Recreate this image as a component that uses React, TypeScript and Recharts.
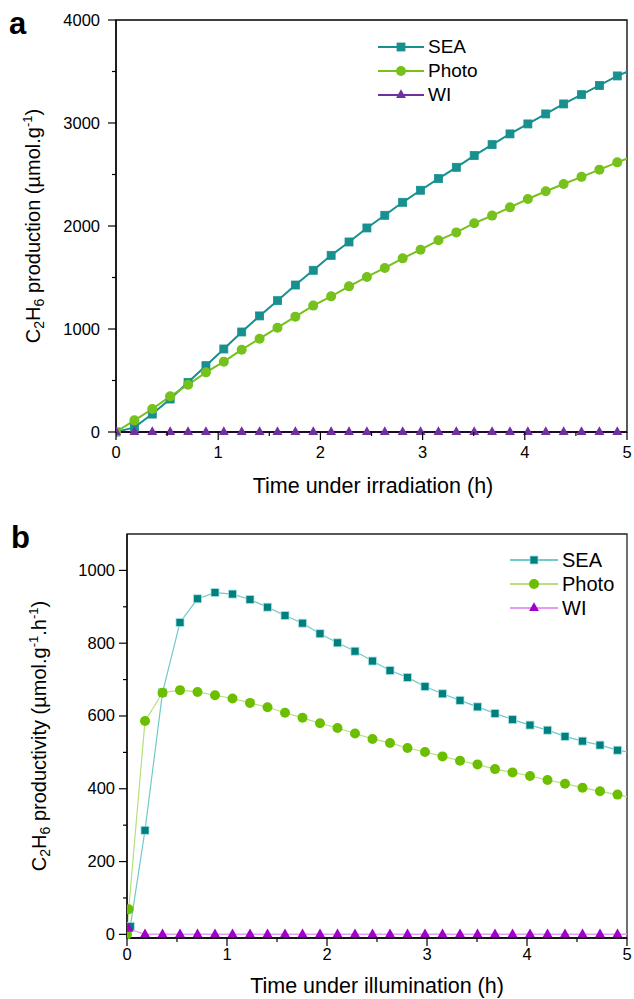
import React from 'react';
import { LineChart, Line, XAxis, YAxis, Legend, Label, ReferenceArea } from 'recharts';

const FONT = "'Liberation Sans', Arial, Helvetica, sans-serif";

// sampling times (h); the last one lies just past the axis end, the line runs out to the frame
const times = [0.18, 0.355, 0.53, 0.705, 0.88, 1.055, 1.23, 1.405, 1.58, 1.755, 1.93, 2.105, 2.28, 2.455, 2.63,
  2.805, 2.98, 3.155, 3.33, 3.505, 3.68, 3.855, 4.03, 4.205, 4.38, 4.555, 4.73, 4.905, 5.08];

// (a) cumulative C2H6 production, µmol/g
const prodSEA = [45, 174, 320, 482, 644, 806, 971, 1127, 1275, 1427, 1570, 1715, 1845, 1981, 2104, 2230, 2347,
  2460, 2570, 2684, 2790, 2894, 2991, 3088, 3185, 3275, 3365, 3457, 3530];
const prodPhoto = [113, 223, 346, 459, 579, 683, 799, 906, 1013, 1120, 1227, 1317, 1414, 1505, 1593, 1686, 1770,
  1861, 1938, 2027, 2101, 2181, 2262, 2337, 2408, 2477, 2547, 2618, 2684];
const prodWI = [0, 0, 0, 0, 0, 0, 0, 0, 0, 0, 0, 0, 0, 0, 0, 0, 0, 0, 0, 0, 0, 0, 0, 0, 0, 0, 0, 0, 0];

// (b) C2H6 productivity, µmol/g/h
const rateSEA = [286, 664, 857, 922, 939, 935, 920, 899, 876, 855, 826, 801, 778, 751, 725, 706, 681, 661, 643,
  625, 607, 590, 575, 561, 544, 531, 520, 506, 497];
const ratePhoto = [586, 664, 671, 666, 657, 648, 636, 624, 609, 595, 580, 567, 552, 537, 526, 512, 501, 489, 477,
  467, 454, 445, 435, 424, 414, 403, 393, 384, 373];
const rateWI = [0, 0, 0, 0, 0, 0, 0, 0, 0, 0, 0, 0, 0, 0, 0, 0, 0, 0, 0, 0, 0, 0, 0, 0, 0, 0, 0, 0, 0];

// first injections, before the regular sampling
const prodEarlyT = [0];
const prodEarlyV = [0];
const rateEarlyT_SEA = [0.033];
const rateEarlyV_SEA = [22];
const rateEarlyT_Photo = [0, 0.017];
const rateEarlyV_Photo = [0, 69];
const rateEarlyT_WI = [0.017];
const rateEarlyV_WI = [15];

const seriesNames = ['SEA', 'Photo', 'WI'] as const;
const xTicks = [0, 0.5, 1, 1.5, 2, 2.5, 3, 3.5, 4, 4.5, 5];
const prodTicks = [0, 500, 1000, 1500, 2000, 2500, 3000, 3500, 4000];
const rateTicks = [0, 100, 200, 300, 400, 500, 600, 700, 800, 900, 1000];

const pts = (ts: number[], vs: number[]) => ts.map((t, i) => ({ t, v: vs[i] }));

type Style = { line: string; fill: string; edge: string; shape: string; size: number; width: number };

const TOP: Record<string, Style> = {
  SEA: { line: '#17908f', fill: '#17908f', edge: '#17908f', shape: 'square', size: 8, width: 2 },
  Photo: { line: '#76c11b', fill: '#76c11b', edge: '#76c11b', shape: 'circle', size: 10, width: 2 },
  WI: { line: '#7030a0', fill: '#7030a0', edge: '#7030a0', shape: 'triangle', size: 9, width: 2 },
};
const BOT: Record<string, Style> = {
  SEA: { line: '#72c9c9', fill: '#007f7f', edge: '#a8e2e2', shape: 'square', size: 8, width: 1.2 },
  Photo: { line: '#b5e07c', fill: '#6cbf00', edge: '#6cbf00', shape: 'circle', size: 10, width: 1.2 },
  WI: { line: '#e49cf3', fill: '#a000c8', edge: '#a000c8', shape: 'triangle', size: 9, width: 1.5 },
};

function Marker({ s, cx, cy }: { s: Style; cx: number; cy: number }) {
  const h = s.size / 2;
  if (s.shape === 'square')
    return <rect x={cx - h} y={cy - h} width={s.size} height={s.size} fill={s.fill} stroke={s.edge} strokeWidth={0.8} />;
  if (s.shape === 'circle') return <circle cx={cx} cy={cy} r={h} fill={s.fill} />;
  return <polygon points={`${cx},${cy - h * 1.3} ${cx - h * 1.1},${cy + h * 0.65} ${cx + h * 1.1},${cy + h * 0.65}`} fill={s.fill} />;
}

const dotFor = (s: Style) => (p: any) =>
  p.payload.t > 5 ? <g key={p.index} /> : <Marker key={p.index} s={s} cx={p.cx} cy={p.cy} />;

const xTick = (dy: number) => (p: any) => {
  const v = p.payload.value;
  const major = Number.isInteger(v);
  return (
    <g>
      <line x1={p.x} x2={p.x} y1={p.y} y2={p.y + (major ? 8 : 4)} stroke="#000" strokeWidth={1.2} />
      {major && <text x={p.x} y={p.y + dy} textAnchor="middle" fontSize={16.5} fontFamily={FONT} fill="#000">{v}</text>}
    </g>
  );
};

const yTick = (step: number, dx: number) => (p: any) => {
  const v = p.payload.value;
  const major = v % step === 0;
  return (
    <g>
      <line x1={p.x} x2={p.x - (major ? 8 : 4)} y1={p.y} y2={p.y} stroke="#000" strokeWidth={1.2} />
      {major && <text x={p.x - dx} y={p.y + 5.5} textAnchor="end" fontSize={16.5} fontFamily={FONT} fill="#000">{v}</text>}
    </g>
  );
};

function LegendBox({ payload, styles, lineW, fontSize }: { payload?: any[]; styles: Record<string, Style>; lineW: number; fontSize: number }) {
  const items = seriesNames.filter(n => (payload || []).some((e: any) => e.value === n));
  return (
    <div style={{ fontFamily: FONT, fontSize, color: '#000' }}>
      {items.map(name => {
        const s = styles[name];
        return (
          <div key={name} style={{ display: 'flex', alignItems: 'center', height: 24 }}>
            <svg width={lineW} height={16}>
              <line x1={0} x2={lineW} y1={8} y2={8} stroke={s.line} strokeWidth={2} />
              <Marker s={s} cx={lineW / 2} cy={8} />
            </svg>
            <span style={{ marginLeft: 4 }}>{name}</span>
          </div>
        );
      })}
    </div>
  );
}

const sub = (t: string) => <tspan dy={4} fontSize={14}>{t}</tspan>;

export default function App() {
  const axis = { stroke: '#000', strokeWidth: 1.3 };
  const top = {
    SEA: pts(prodEarlyT.concat(times), prodEarlyV.concat(prodSEA)),
    Photo: pts(prodEarlyT.concat(times), prodEarlyV.concat(prodPhoto)),
    WI: pts(prodEarlyT.concat(times), prodEarlyV.concat(prodWI)),
  };
  const bot = {
    SEA: pts(rateEarlyT_SEA.concat(times), rateEarlyV_SEA.concat(rateSEA)),
    Photo: pts(rateEarlyT_Photo.concat(times), rateEarlyV_Photo.concat(ratePhoto)),
    WI: pts(rateEarlyT_WI.concat(times), rateEarlyV_WI.concat(rateWI)),
  };
  const panel = { position: 'absolute' as const, fontFamily: FONT, fontWeight: 700, fontSize: 31, lineHeight: '31px' };

  return (
    <div style={{ position: 'absolute', left: 0, top: 0, width: 634, height: 999, background: '#fff', overflow: 'hidden' }}>
      <div style={{ ...panel, left: 9, top: 8 }}>a</div>
      <div style={{ ...panel, left: 11, top: 522 }}>b</div>

      <div style={{ position: 'absolute', left: 0, top: 0 }}>
        <LineChart width={634} height={500} margin={{ top: 20, right: 7, left: 56, bottom: 28 }}>
          <XAxis type="number" dataKey="t" domain={[0, 5]} ticks={xTicks} interval={0} allowDataOverflow
            tickSize={0} tickMargin={0} tickLine={false} tick={xTick(26)} axisLine={axis} height={40}>
            <Label content={() => <text x={373} y={493} textAnchor="middle" fontSize={21.5} fontFamily={FONT} fill="#000">Time under irradiation (h)</text>} />
          </XAxis>
          <YAxis type="number" domain={[0, 4000]} ticks={prodTicks} interval={0} width={60}
            tickSize={0} tickMargin={0} tickLine={false} tick={yTick(1000, 16)} axisLine={axis}>
            <Label content={() => (
              <text transform="translate(40,226) rotate(-90)" textAnchor="middle" fontSize={20} fontFamily={FONT} fill="#000">
                C{sub('2')}<tspan dy={-4}>H</tspan>{sub('6')}<tspan dy={-4}> production (µmol.g</tspan>
                <tspan dy={-8} fontSize={13}>-1</tspan><tspan dy={8}>)</tspan>
              </text>
            )} />
          </YAxis>
          <ReferenceArea x1={0} x2={5} y1={0} y2={4000} fill="none" stroke="#000" strokeWidth={1.3} ifOverflow="visible" />
          <Legend layout="vertical" align="center" verticalAlign="middle" wrapperStyle={{ left: 378, top: 35, width: 130 }}
            content={(p: any) => <LegendBox payload={p.payload} styles={TOP} lineW={46} fontSize={19} />} />
          {seriesNames.map(k => (
            <Line key={k} name={k} data={top[k]} dataKey="v" stroke={TOP[k].line} strokeWidth={TOP[k].width}
              dot={dotFor(TOP[k])} activeDot={false} isAnimationActive={false} />
          ))}
        </LineChart>
      </div>

      <div style={{ position: 'absolute', left: 0, top: 500 }}>
        <LineChart width={634} height={499} margin={{ top: 34, right: 7, left: 67, bottom: 21 }}>
          <XAxis type="number" dataKey="t" domain={[0, 5]} ticks={xTicks} interval={0} allowDataOverflow
            tickSize={0} tickMargin={0} tickLine={false} tick={xTick(22)} axisLine={axis} height={40}>
            <Label content={() => <text x={377} y={493} textAnchor="middle" fontSize={21.5} fontFamily={FONT} fill="#000">Time under illumination (h)</text>} />
          </XAxis>
          <YAxis type="number" domain={[-10, 1100]} ticks={rateTicks} interval={0} width={60}
            tickSize={0} tickMargin={0} tickLine={false} tick={yTick(200, 12)} axisLine={axis}>
            <Label content={() => (
              <text transform="translate(46,236) rotate(-90)" textAnchor="middle" fontSize={20} fontFamily={FONT} fill="#000">
                C{sub('2')}<tspan dy={-4}>H</tspan>{sub('6')}<tspan dy={-4}> productivity (µmol.g</tspan>
                <tspan dy={-8} fontSize={13}>-1</tspan><tspan dy={8}>.h</tspan>
                <tspan dy={-8} fontSize={13}>-1</tspan><tspan dy={8}>)</tspan>
              </text>
            )} />
          </YAxis>
          <ReferenceArea x1={0} x2={5} y1={-10} y2={1100} fill="none" stroke="#222" strokeWidth={1.3} ifOverflow="visible" />
          <Legend layout="vertical" align="center" verticalAlign="middle" wrapperStyle={{ left: 510, top: 48, width: 124 }}
            content={(p: any) => <LegendBox payload={p.payload} styles={BOT} lineW={48} fontSize={20} />} />
          {seriesNames.map(k => (
            <Line key={k} name={k} data={bot[k]} dataKey="v" stroke={BOT[k].line} strokeWidth={BOT[k].width}
              dot={dotFor(BOT[k])} activeDot={false} isAnimationActive={false} />
          ))}
        </LineChart>
      </div>
    </div>
  );
}
